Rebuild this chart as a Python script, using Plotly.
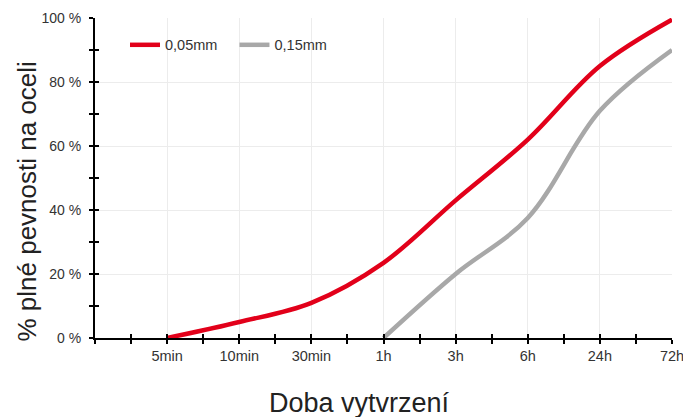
import plotly.graph_objects as go

categories = ["", "5min", "10min", "30min", "1h", "3h", "6h", "24h", "72h"]
red_x = [1, 2, 3, 4, 5, 6, 7, 8]
red_y = [0, 5, 11, 23.5, 43, 62, 85, 99.5]
grey_x = [4, 5, 6, 7, 8]
grey_y = [0, 20, 37.5, 71, 90]
y_ticks = [0, 20, 40, 60, 80, 100]
y_labels = ["0 %", "20 %", "40 %", "60 %", "80 %", "100 %"]
series_names = ["0,05mm", "0,15mm"]
x_title = "Doba vytvrzení"
y_title = "% plné pevnosti na oceli"

FONT = "Liberation Sans, Arial, sans-serif"
NB = "\u00a0" * 3

fig = go.Figure()
fig.add_trace(go.Scatter(x=red_x, y=red_y, mode="lines", name=series_names[0] + NB,
                         line=dict(color="#e2001a", width=4.5, shape="spline", smoothing=1.0)))
fig.add_trace(go.Scatter(x=grey_x, y=grey_y, mode="lines", name=series_names[1],
                         line=dict(color="#a8a8a8", width=4.5, shape="spline", smoothing=1.0)))
# invisible trace to hold the overlay axes (inside tick halves)
fig.add_trace(go.Scatter(x=[0], y=[0], xaxis="x2", yaxis="y2", mode="markers",
                         marker=dict(opacity=0), showlegend=False, hoverinfo="skip"))

tick_common = dict(ticklen=4, tickwidth=2, tickcolor="black")

fig.update_layout(
    width=683, height=417,
    margin=dict(l=95, r=11, t=18, b=79, autoexpand=False),
    paper_bgcolor="white", plot_bgcolor="white",
    font=dict(family=FONT, color="#333333"),
    showlegend=True,
    legend=dict(orientation="h", x=0.052, y=0.916, xanchor="left", yanchor="middle",
                font=dict(size=14.5, color="#333333"), bgcolor="rgba(0,0,0,0)",
                tracegroupgap=0),
    xaxis=dict(range=[0, 8], tickvals=list(range(len(categories))), ticktext=categories,
               automargin=False, ticklabeloverflow="allow",
               showgrid=True, gridcolor="#ececec", gridwidth=1,
               showline=True, linecolor="black", linewidth=2,
               ticks="outside", **tick_common,
               minor=dict(dtick=0.5, tick0=0, ticks="outside", showgrid=False, **tick_common),
               tickfont=dict(size=14.5, color="#333333"), zeroline=False),
    yaxis=dict(range=[0, 100], tickvals=y_ticks, ticktext=y_labels,
               automargin=False, ticklabelstandoff=5, ticklabeloverflow="allow",
               showgrid=True, gridcolor="#ececec", gridwidth=1,
               showline=True, linecolor="black", linewidth=2,
               ticks="outside", **tick_common,
               minor=dict(dtick=10, tick0=0, ticks="outside", showgrid=False, **tick_common),
               tickfont=dict(size=14, color="#333333"), zeroline=False),
    xaxis2=dict(range=[0, 8], overlaying="x", anchor="y2", side="bottom",
                automargin=False,
                tickvals=list(range(len(categories))), showticklabels=False,
                showgrid=False, zeroline=False, showline=False,
                ticks="inside", **tick_common,
                minor=dict(dtick=0.5, tick0=0, ticks="inside", showgrid=False, **tick_common)),
    yaxis2=dict(range=[0, 100], overlaying="y", anchor="x2", side="left",
                automargin=False,
                tickvals=y_ticks, showticklabels=False,
                showgrid=False, zeroline=False, showline=False,
                ticks="inside", **tick_common,
                minor=dict(dtick=10, tick0=0, ticks="inside", showgrid=False, **tick_common)),
    annotations=[
        dict(text=x_title, xref="paper", yref="paper", x=0.459, y=-0.203,
             xanchor="center", yanchor="middle", showarrow=False,
             font=dict(size=27, color="#222222")),
        dict(text=y_title, xref="paper", yref="paper", x=-0.117, y=0.428,
             xanchor="center", yanchor="middle", showarrow=False, textangle=-90,
             font=dict(size=26, color="#222222")),
    ],
)

fig.write_html("out.html", config={"displayModeBar": False},
               post_script="document.body.style.margin='0';document.body.style.overflow='hidden';")
